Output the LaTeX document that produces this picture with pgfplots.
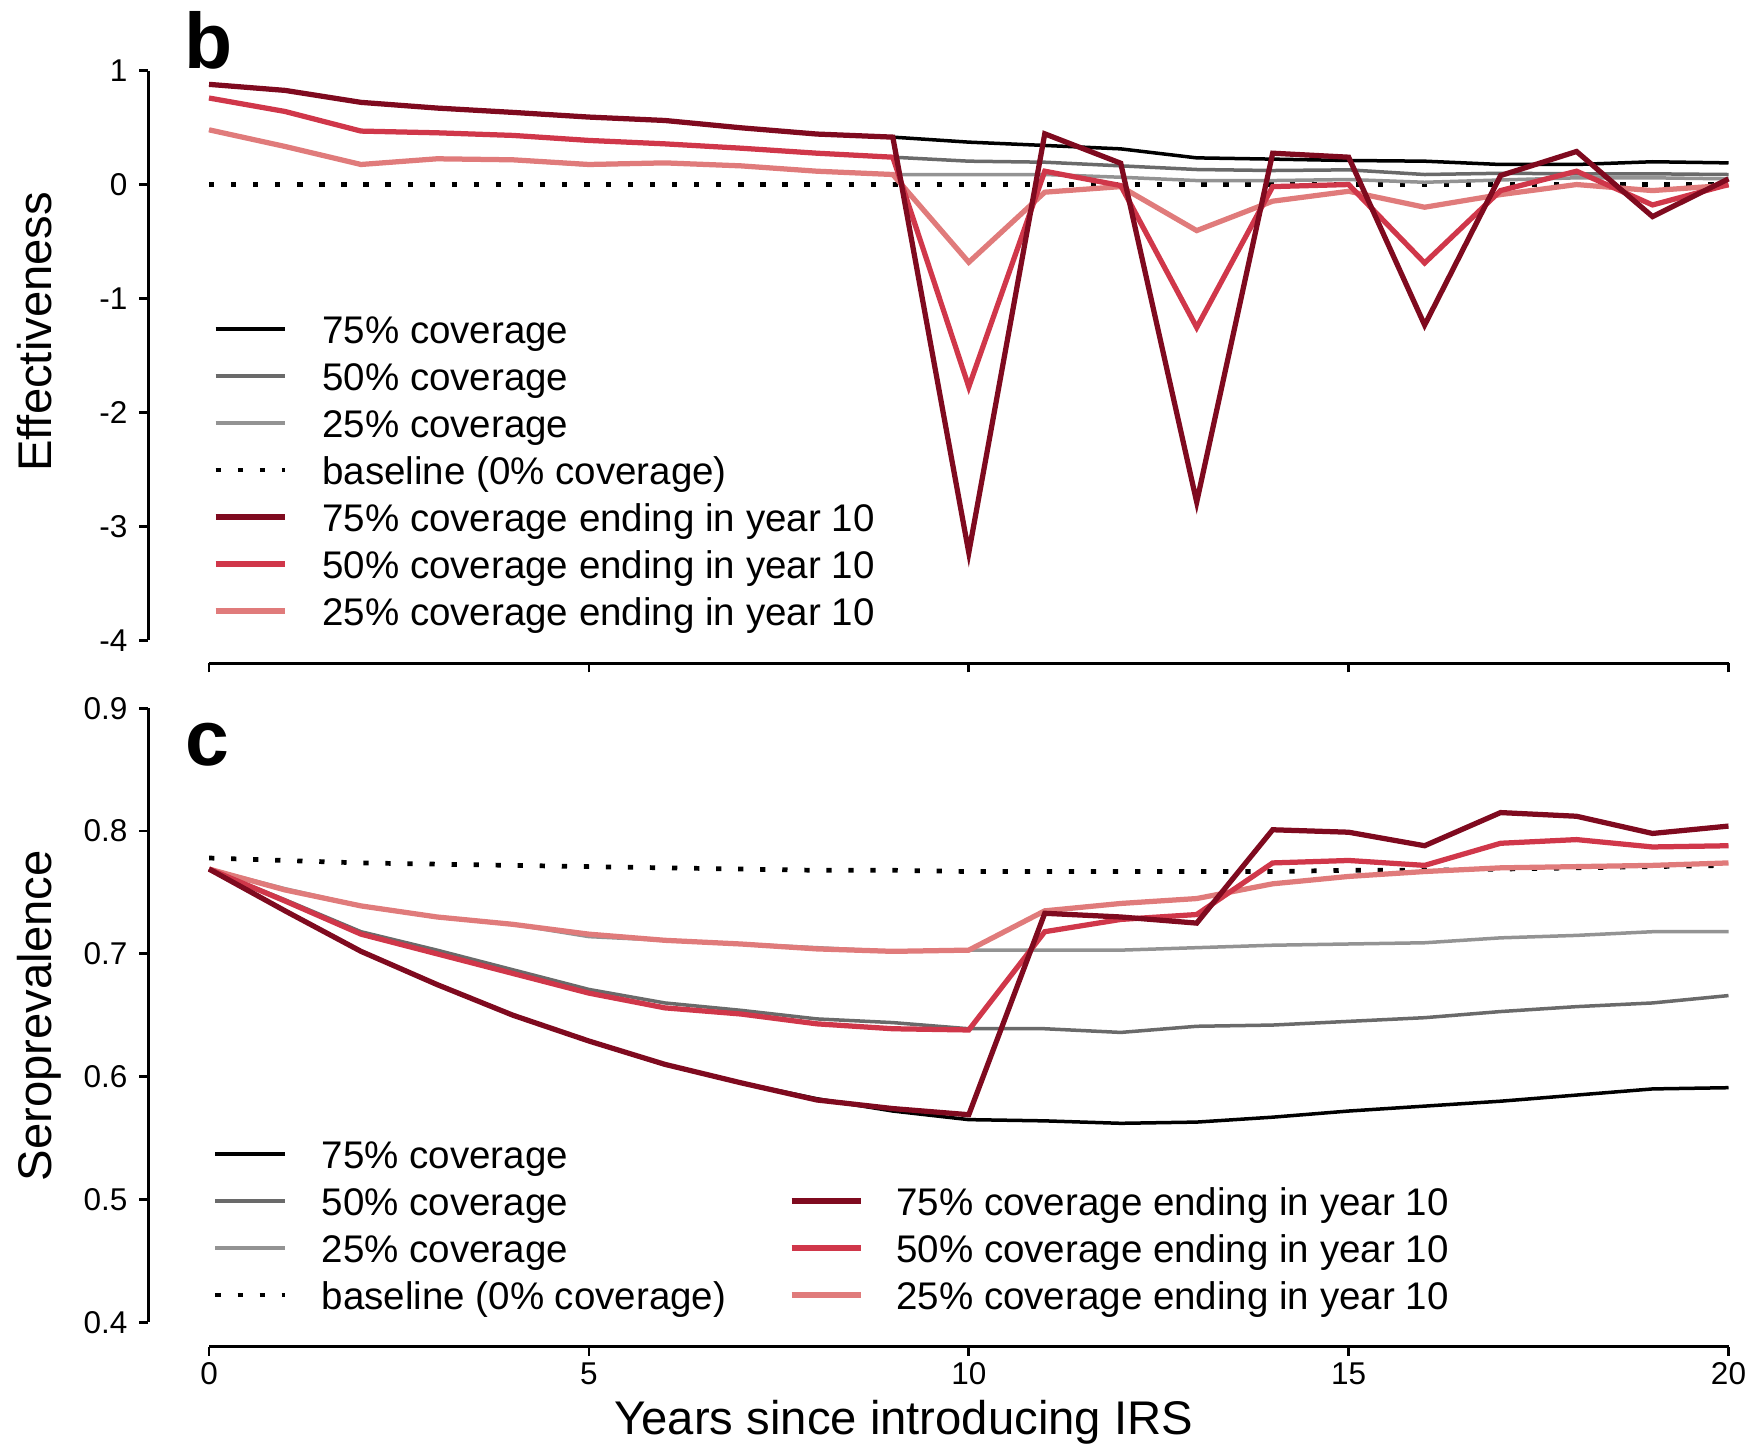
\documentclass[border=0pt]{standalone}
\usepackage{pgfplots}
\pgfplotsset{compat=1.18}
\usepackage{pgfplotstable}
\usepackage{fontspec}
\setmainfont{Liberation Sans}

\definecolor{dred}{HTML}{7F0A1F}
\definecolor{mred}{HTML}{D0374A}
\definecolor{lred}{HTML}{E07B7B}
\definecolor{g50}{HTML}{6A6A6A}
\definecolor{g25}{HTML}{939393}

% panel b: effectiveness
\pgfplotstableread{
t  b75    g50    g25    base  r75     r50     r25
0  0.879  0.759  0.480  0     0.879   0.759   0.480
1  0.826  0.641  0.334  0     0.826   0.641   0.334
2  0.721  0.469  0.176  0     0.721   0.469   0.176
3  0.671  0.454  0.226  0     0.671   0.454   0.226
4  0.633  0.431  0.217  0     0.633   0.431   0.217
5  0.592  0.387  0.170  0     0.592   0.387   0.176
6  0.562  0.357  0.190  0     0.562   0.357   0.190
7  0.498  0.319  0.164  0     0.498   0.319   0.164
8  0.443  0.275  0.117  0     0.443   0.275   0.117
9  0.416  0.240  0.088  0     0.416   0.240   0.088
10 0.372  0.205  0.088  0    -3.230  -1.775  -0.682
11 0.343  0.196  0.088  0     0.445   0.117  -0.067
12 0.313  0.164  0.064  0     0.187  -0.009  -0.018
13 0.234  0.132  0.035  0    -2.786  -1.254  -0.404
14 0.223  0.123  0.035  0     0.275  -0.018  -0.146
15 0.211  0.129  0.044  0     0.240   0.000  -0.059
16 0.205  0.088  0.020  0    -1.233  -0.688  -0.199
17 0.176  0.099  0.040  0     0.079  -0.053  -0.088
18 0.176  0.094  0.059  0     0.290   0.117   0.000
19 0.200  0.094  0.059  0    -0.281  -0.179  -0.053
20 0.190  0.088  0.050  0     0.050   0.000  -0.006
}\effdata

% panel c: seroprevalence
\pgfplotstableread{
t  b75    g50    g25    base   r75    r50    r25
0  0.769  0.769  0.769  0.778  0.769  0.769  0.769
1  0.735  0.744  0.753  0.776  0.735  0.743  0.752
2  0.702  0.718  0.739  0.774  0.702  0.716  0.739
3  0.675  0.703  0.730  0.773  0.675  0.700  0.730
4  0.650  0.687  0.724  0.772  0.650  0.684  0.724
5  0.629  0.671  0.714  0.771  0.629  0.668  0.716
6  0.610  0.660  0.711  0.770  0.610  0.656  0.711
7  0.595  0.654  0.708  0.769  0.595  0.651  0.708
8  0.582  0.647  0.705  0.768  0.581  0.643  0.704
9  0.572  0.644  0.702  0.768  0.574  0.639  0.702
10 0.565  0.639  0.703  0.767  0.569  0.638  0.703
11 0.564  0.639  0.703  0.767  0.733  0.718  0.735
12 0.562  0.636  0.703  0.767  0.730  0.728  0.741
13 0.563  0.641  0.705  0.767  0.725  0.732  0.745
14 0.567  0.642  0.707  0.767  0.801  0.774  0.757
15 0.572  0.645  0.708  0.768  0.799  0.776  0.763
16 0.576  0.648  0.709  0.768  0.788  0.772  0.767
17 0.580  0.653  0.713  0.769  0.815  0.790  0.770
18 0.585  0.657  0.715  0.770  0.812  0.793  0.771
19 0.590  0.660  0.718  0.771  0.798  0.787  0.772
20 0.591  0.666  0.718  0.772  0.804  0.788  0.774
}\serodata

\tikzset{
  s75/.style={black, line width=1pt},
  s50/.style={g50, line width=1pt},
  s25/.style={g25, line width=1pt},
  sbase/.style={black, line width=1.35pt, dash pattern=on 1.5pt off 4.8pt},
  e75/.style={dred, line width=1.5pt},
  e50/.style={mred, line width=1.5pt},
  e25/.style={lred, line width=1.5pt},
}

\pgfplotsset{
  irs/.style={
    scale only axis, width=468.85pt,
    xmin=-0.8, xmax=20.8, xtick={0,5,10,15,20},
    axis x line=bottom, axis y line=left, axis line style={draw=none},
    tick align=outside, major tick length=2.6pt,
    tick style={black, line width=0.8pt},
    tick label style={font=\fontsize{9}{10}\selectfont, inner sep=0pt},
    yticklabel style={anchor=east}, xticklabel style={anchor=north},
    yticklabel shift=3.2pt, xticklabel shift=1.7pt,
    clip=false,
    legend cell align=left,
    legend image code/.code={\draw[##1] (0pt,0pt) -- (19.8pt,0pt);},
    legend style={draw=none, fill=none, inner sep=0pt, outer sep=0pt,
      anchor=north west, row sep=2.62pt,
      nodes={inner sep=0pt, text height=9.5pt, text depth=1.3pt,
        font=\fontsize{11}{13}\selectfont},
      /tikz/column 1/.style={column sep=9.9pt}},
    every axis y label/.style={rotate=90, anchor=base,
      font=\fontsize{13.5}{15}\selectfont},
    every axis x label/.style={anchor=base,
      font=\fontsize{13.5}{15}\selectfont},
  }
}

\begin{document}
\begin{tikzpicture}
% top panel (b)
\begin{axis}[irs, at={(42.37pt,224.2pt)}, anchor=south west,
  height=175.86pt, ymin=-4.2, ymax=1.2,
  ytick={-4,-3,-2,-1,0,1}, yticklabels={-4,-3,-2,-1,0,1},
  xticklabels={},
  ylabel={Effectiveness},
  ylabel style={at={(axis description cs:-0.0588,0.5385)}},
  legend style={at={(axis description cs:0.0395,0.5737)}}]
\addplot[sbase, forget plot] table[x=t, y=base] {\effdata};
\addplot[s25, forget plot] table[x=t, y=g25] {\effdata};
\addplot[s50, forget plot] table[x=t, y=g50] {\effdata};
\addplot[s75, forget plot] table[x=t, y=b75] {\effdata};
\addplot[e25, forget plot] table[x=t, y=r25] {\effdata};
\addplot[e50, forget plot] table[x=t, y=r50] {\effdata};
\addplot[e75, forget plot] table[x=t, y=r75] {\effdata};
\addlegendimage{s75}\addlegendentry{75\% coverage}
\addlegendimage{s50}\addlegendentry{50\% coverage}
\addlegendimage{s25}\addlegendentry{25\% coverage}
\addlegendimage{sbase}\addlegendentry{baseline (0\% coverage)}
\addlegendimage{e75}\addlegendentry{75\% coverage ending in year 10}
\addlegendimage{e50}\addlegendentry{50\% coverage ending in year 10}
\addlegendimage{e25}\addlegendentry{25\% coverage ending in year 10}
\draw[line width=0.8pt] (axis cs:-0.8,-4) -- (axis cs:-0.8,1);
\draw[line width=0.8pt] (axis cs:0,-4.2) -- (axis cs:20,-4.2);
\end{axis}

% bottom panel (c)
\begin{axis}[irs, at={(42.37pt,28.89pt)}, anchor=south west,
  height=189.5pt, ymin=0.38, ymax=0.92,
  ytick={0.4,0.5,0.6,0.7,0.8,0.9}, yticklabels={0.4,0.5,0.6,0.7,0.8,0.9},
  xticklabels={0,5,10,15,20},
  ylabel={Seroprevalence},
  ylabel style={at={(axis description cs:-0.0588,0.4993)}},
  xlabel={Years since introducing IRS},
  xlabel style={at={(axis description cs:0.4604,-0.1324)}},
  legend columns=2,
  legend style={at={(axis description cs:0.0395,0.3193)},
    /tikz/column 2/.style={column sep=17.9pt},
    /tikz/column 3/.style={column sep=9.4pt}}]
\addplot[sbase, forget plot] table[x=t, y=base] {\serodata};
\addplot[s25, forget plot] table[x=t, y=g25] {\serodata};
\addplot[s50, forget plot] table[x=t, y=g50] {\serodata};
\addplot[s75, forget plot] table[x=t, y=b75] {\serodata};
\addplot[e25, forget plot] table[x=t, y=r25] {\serodata};
\addplot[e50, forget plot] table[x=t, y=r50] {\serodata};
\addplot[e75, forget plot] table[x=t, y=r75] {\serodata};
\addlegendimage{s75}\addlegendentry{75\% coverage}
\addlegendimage{empty legend}\addlegendentry{}
\addlegendimage{s50}\addlegendentry{50\% coverage}
\addlegendimage{e75}\addlegendentry{75\% coverage ending in year 10}
\addlegendimage{s25}\addlegendentry{25\% coverage}
\addlegendimage{e50}\addlegendentry{50\% coverage ending in year 10}
\addlegendimage{sbase}\addlegendentry{baseline (0\% coverage)}
\addlegendimage{e25}\addlegendentry{25\% coverage ending in year 10}
\draw[line width=0.8pt] (axis cs:-0.8,0.4) -- (axis cs:-0.8,0.9);
\draw[line width=0.8pt] (axis cs:0,0.38) -- (axis cs:20,0.38);
\end{axis}

\node[anchor=base west, inner sep=0pt, font=\fontsize{22.5}{24}\selectfont\bfseries] at (52.5pt,394.2pt) {b};
\node[anchor=base west, inner sep=0pt, font=\fontsize{22.5}{24}\selectfont\bfseries] at (52.8pt,194.9pt) {c};

\pgfresetboundingbox
\useasboundingbox (0,0) rectangle (503.71pt,413.71pt);
\end{tikzpicture}
\end{document}
